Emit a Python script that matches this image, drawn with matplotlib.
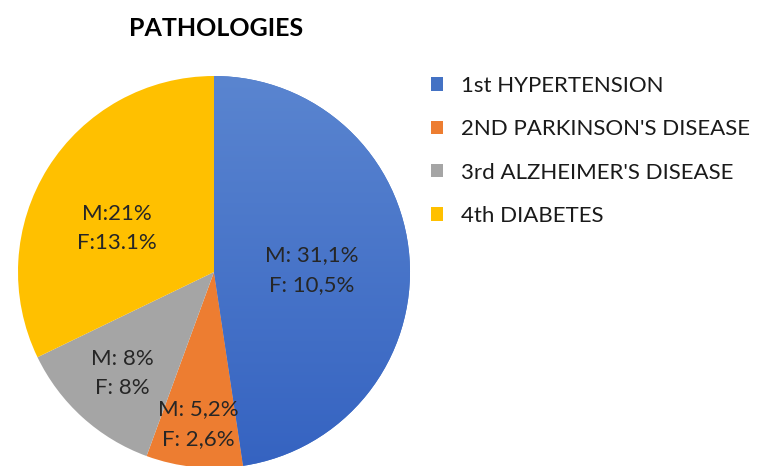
import numpy as np
import matplotlib
matplotlib.use("Agg")
import matplotlib.pyplot as plt
from matplotlib.colors import LinearSegmentedColormap

categories = ["1st HYPERTENSION", "2ND PARKINSON'S DISEASE",
              "3rd ALZHEIMER'S DISEASE", "4th DIABETES"]
male = [31.1, 5.2, 8, 21]
female = [10.5, 2.6, 8, 13.1]
slice_labels = ["M: 31,1%\nF: 10,5%", "M: 5,2%\nF: 2,6%",
                "M: 8%\nF: 8%", "M:21%\nF:13.1%"]

colors = ["#4472C4", "#ED7D31", "#A5A5A5", "#FFC000"]
# label placement: radius fraction and angle nudge (deg) per slice
label_r = [0.50, 0.78, 0.70, 0.545]
label_dang = [-3, 0, 0, 8]

plt.rcParams['font.family'] = ['Lato', 'DejaVu Sans']

fig = plt.figure(figsize=(7.57, 4.66), dpi=100)
ax = fig.add_axes([18/757, -2/466, 392/757, 392/466])

wedges, _ = ax.pie(male, colors=colors, startangle=90, counterclock=False,
                   radius=1, wedgeprops=dict(linewidth=0))
ax.set_xlim(-1, 1)
ax.set_ylim(-1, 1)
ax.set_aspect("equal")

# soft vertical shading on the blue slice
cmap = LinearSegmentedColormap.from_list("blu", ["#3563C1", "#5A85D0"])
grad = np.linspace(0, 1, 256).reshape(-1, 1)
im = ax.imshow(grad, cmap=cmap, extent=(-1, 1, -1, 1), origin="lower",
               aspect="auto", zorder=wedges[0].get_zorder() + 0.1)
im.set_clip_path(wedges[0])

for w, txt, r, da in zip(wedges, slice_labels, label_r, label_dang):
    mid = np.deg2rad((w.theta1 + w.theta2) / 2 + da)
    ax.text(r*np.cos(mid), r*np.sin(mid), txt, ha="center", va="center",
            fontsize=16, color="#262626", linespacing=1.6, zorder=5)

fig.text(216/757, 1-29/466, "PATHOLOGIES", ha="center", va="center",
         fontsize=18, fontweight="bold", color="black")

fig.legend(wedges, categories, loc="upper left",
           bbox_to_anchor=(411/757, 1-56/466), frameon=False, fontsize=16,
           labelspacing=1.05, handlelength=0.55, handleheight=0.55,
           handletextpad=0.8, labelcolor="#1a1a1a")

fig.savefig("out.png", dpi=100)
